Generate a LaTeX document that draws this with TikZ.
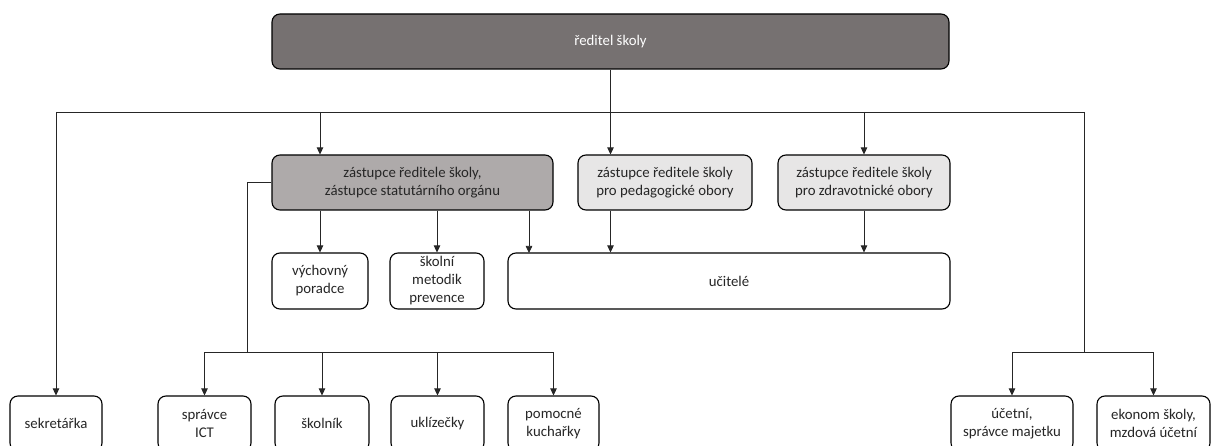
\documentclass[tikz,border=0pt]{standalone}
\usepackage{fontspec}
\setmainfont{Carlito}
\usetikzlibrary{arrows.meta,calc}
\definecolor{dirfill}{HTML}{767171}
\definecolor{zfill}{HTML}{AEAAAA}
\definecolor{lfill}{HTML}{E7E6E6}
\begin{document}
\begin{tikzpicture}[x=1pt,y=-1pt,
  box/.style={draw=black,line width=1.1pt,rounded corners=8pt,fill=white,align=center,inner sep=0pt,
    font=\fontsize{14.8}{18}\selectfont,text=black!85},
  ln/.style={draw=black!85,line width=0.75pt},
  arr/.style={ln,-{Triangle[length=7pt,width=6.5pt]}}]
\useasboundingbox (0,0) rectangle (1213,446);
% nodes
\node[box,fill=dirfill,text=white,minimum width=677,minimum height=55] (dir) at (610.5,41.5) {ředitel školy};
\node[box,fill=zfill,minimum width=281,minimum height=55] (z1) at (412.5,182.5) {zástupce ředitele školy,\\zástupce statutárního orgánu};
\node[box,fill=lfill,minimum width=174,minimum height=55] (z2) at (665,182.5) {zástupce ředitele školy\\pro pedagogické obory};
\node[box,fill=lfill,minimum width=172,minimum height=55] (z3) at (864,182.5) {zástupce ředitele školy\\pro zdravotnické obory};
\node[box,minimum width=96,minimum height=56] (vych) at (320,281) {výchovný\\poradce};
\node[box,minimum width=94,minimum height=56] (met) at (437,281) {školní\\metodik\\prevence};
\node[box,minimum width=442,minimum height=56] (uci) at (729,281) {učitelé};
\node[box,minimum width=92,minimum height=55] (sek) at (56,423.5) {sekretářka};
\node[box,minimum width=93,minimum height=55] (ict) at (204.5,423.5) {správce\\ICT};
\node[box,minimum width=94,minimum height=55] (skol) at (322,423.5) {školník};
\node[box,minimum width=93,minimum height=55] (ukl) at (437.5,423.5) {uklízečky};
\node[box,minimum width=91,minimum height=55] (kuch) at (553.5,423.5) {pomocné\\kuchařky};
\node[box,minimum width=122,minimum height=55] (uc) at (1012,423.5) {účetní,\\správce majetku};
\node[box,minimum width=113,minimum height=55] (ek) at (1153.5,423.5) {ekonom školy,\\mzdová účetní};
% junctions
\coordinate (barL) at (56,112);
\coordinate (barR) at (1084,112);
\coordinate (rj) at (1084,352);
\coordinate (lj) at (247,352);
\coordinate (uciA) at (529,253);
% connectors
\draw[arr] (dir.south) -- (dir.south |- z2.north);
\draw[ln] (barL) -- (barR);
\draw[arr] (barL) -- (sek.north);
\draw[arr] (vych.north |- barL) -- (vych.north |- z1.north);
\draw[arr] (z3.north |- barL) -- (z3.north);
\draw[ln] (barR) -- (rj);
\draw[arr] (rj) -| (uc.north);
\draw[arr] (rj) -| (ek.north);
\draw[ln] (z1.west) -| (lj);
\draw[arr] (lj) -| (ict.north);
\draw[arr] (lj) -| (kuch.north);
\draw[arr] (skol.north |- lj) -- (skol.north);
\draw[arr] (ukl.north |- lj) -- (ukl.north);
\draw[arr] (vych.north |- z1.south) -- (vych.north);
\draw[arr] (met.north |- z1.south) -- (met.north);
\draw[arr] (uciA |- z1.south) -- (uciA);
\draw[arr] (dir.south |- z2.south) -- (dir.south |- uci.north);
\draw[arr] (z3.south) -- (z3.south |- uci.north);
\end{tikzpicture}
\end{document}
